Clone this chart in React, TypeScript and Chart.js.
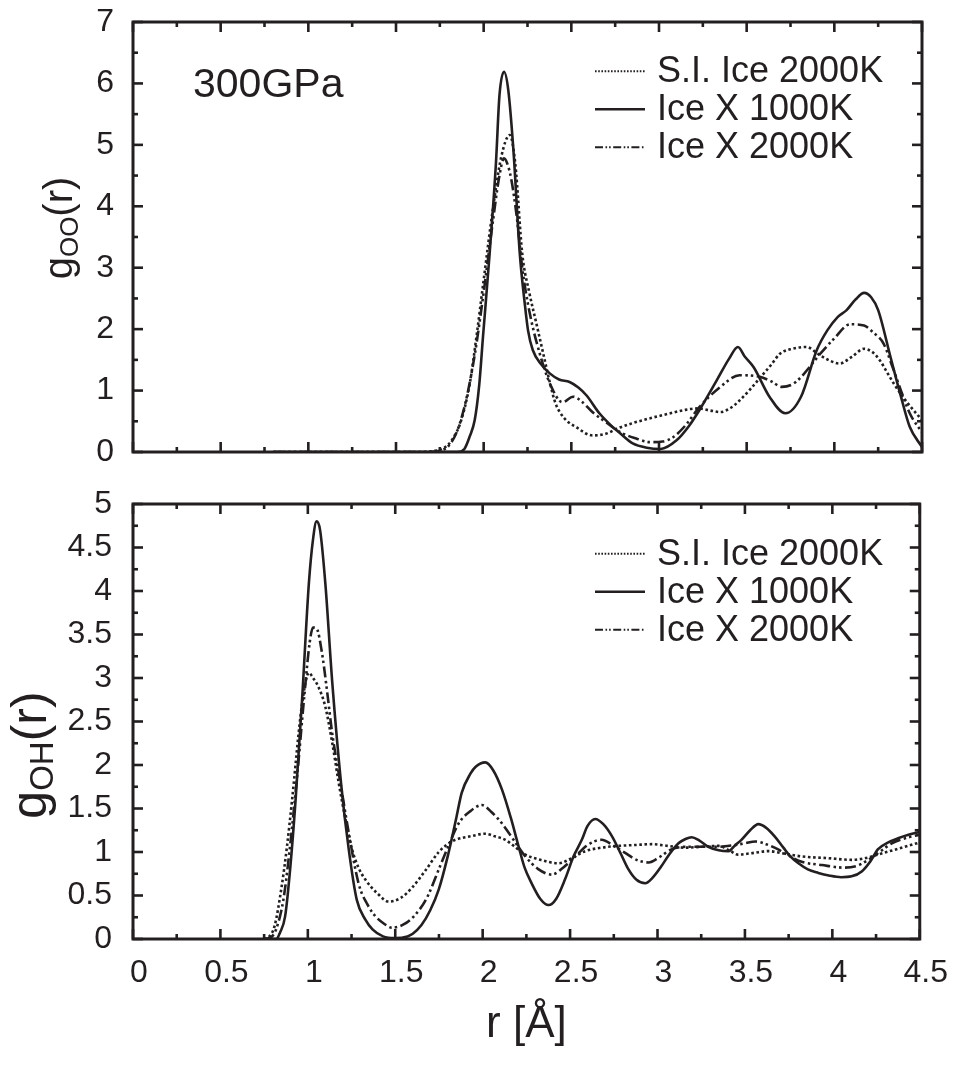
import React, { useEffect, useRef } from "react";
import { Chart, registerables } from "chart.js";

Chart.register(...registerables);

// ---------------- DATA ----------------
const seriesLabels = ["S.I. Ice 2000K", "Ice X 1000K", "Ice X 2000K"];
const pressureLabel = "300GPa";
const xTitle = "r [Å]";
const xTickValues = [0, 0.5, 1, 1.5, 2, 2.5, 3, 3.5, 4, 4.5];
const gooTickValues = [0, 1, 2, 3, 4, 5, 6, 7];
const gohTickValues = [0, 0.5, 1, 1.5, 2, 2.5, 3, 3.5, 4, 4.5, 5];

// g_OO(r) — S.I. Ice 2000K (dotted)
const gooR_SI = [0.8, 1.65, 1.72, 1.77, 1.82, 1.87, 1.92, 1.96, 2.0, 2.05, 2.1, 2.149, 2.18, 2.22, 2.26, 2.3, 2.34, 2.38, 2.41, 2.46, 2.53, 2.62, 2.7, 2.76, 2.85, 2.95, 3.05, 3.14, 3.22, 3.3, 3.35, 3.41, 3.46, 3.52, 3.58, 3.64, 3.69, 3.76, 3.84, 3.92, 3.98, 4.03, 4.1, 4.17, 4.22, 4.26, 4.3, 4.34, 4.42, 4.5];
const gooG_SI = [0, 0, 0.02, 0.06, 0.2, 0.5, 1.1, 1.9, 2.8, 3.9, 4.8, 5.16, 4.7, 3.23, 2.6, 2.1, 1.6, 1.1, 0.79, 0.55, 0.4, 0.27, 0.3, 0.38, 0.47, 0.55, 0.62, 0.68, 0.71, 0.67, 0.65, 0.72, 0.84, 1.02, 1.22, 1.42, 1.6, 1.68, 1.71, 1.57, 1.48, 1.44, 1.55, 1.68, 1.62, 1.49, 1.3, 1.11, 0.79, 0.52];

// g_OO(r) — Ice X 1000K (solid)
const gooR_X1000 = [0.8, 1.7, 1.85, 1.89, 1.92, 1.949, 1.975, 1.996, 2.034, 2.07, 2.09, 2.116, 2.14, 2.17, 2.206, 2.235, 2.253, 2.28, 2.33, 2.377, 2.43, 2.49, 2.54, 2.587, 2.66, 2.72, 2.78, 2.85, 2.93, 3.01, 3.1, 3.17, 3.23, 3.33, 3.4, 3.45, 3.49, 3.54, 3.63, 3.72, 3.81, 3.9, 3.96, 4.02, 4.07, 4.12, 4.17, 4.21, 4.25, 4.32, 4.38, 4.43, 4.5];
const gooG_X1000 = [0, 0, 0, 0.05, 0.25, 0.52, 1.1, 1.87, 3.23, 4.7, 5.8, 6.19, 5.9, 4.9, 3.23, 2.4, 1.98, 1.66, 1.42, 1.28, 1.18, 1.14, 1.05, 0.92, 0.63, 0.45, 0.3, 0.14, 0.07, 0.05, 0.19, 0.42, 0.68, 1.17, 1.52, 1.71, 1.55, 1.38, 0.9, 0.63, 0.9, 1.66, 1.98, 2.2, 2.31, 2.48, 2.59, 2.52, 2.31, 1.55, 0.9, 0.41, 0.08];

// g_OO(r) — Ice X 2000K (dash-dot-dot)
const gooR_X2000 = [0.8, 1.68, 1.75, 1.8, 1.85, 1.9, 1.95, 2.0, 2.05, 2.09, 2.116, 2.14, 2.16, 2.19, 2.22, 2.26, 2.32, 2.38, 2.45, 2.51, 2.56, 2.62, 2.7, 2.78, 2.87, 2.95, 3.02, 3.08, 3.15, 3.23, 3.35, 3.46, 3.58, 3.64, 3.7, 3.76, 3.81, 3.92, 4.0, 4.09, 4.17, 4.22, 4.28, 4.33, 4.38, 4.43, 4.5];
const gooG_X2000 = [0, 0, 0.02, 0.1, 0.35, 0.85, 1.6, 2.6, 3.7, 4.5, 4.78, 4.65, 4.4, 3.8, 3.0, 2.3, 1.6, 1.1, 0.81, 0.9, 0.82, 0.65, 0.48, 0.32, 0.22, 0.16, 0.17, 0.24, 0.43, 0.73, 1.06, 1.25, 1.22, 1.15, 1.06, 1.1, 1.22, 1.6, 1.85, 2.08, 2.06, 1.95, 1.77, 1.4, 1.0, 0.63, 0.32];

// g_OH(r) — S.I. Ice 2000K (dotted)
const gohR_SI = [0.75, 0.78, 0.81, 0.85, 0.88, 0.91, 0.958, 0.99, 1.006, 1.03, 1.06, 1.1, 1.14, 1.177, 1.215, 1.253, 1.29, 1.33, 1.4, 1.463, 1.53, 1.596, 1.67, 1.749, 1.8, 1.844, 1.93, 2.015, 2.07, 2.13, 2.19, 2.244, 2.33, 2.434, 2.51, 2.587, 2.68, 2.777, 2.87, 2.967, 3.06, 3.158, 3.25, 3.35, 3.41, 3.46, 3.55, 3.634, 3.73, 3.82, 3.97, 4.11, 4.19, 4.26, 4.38, 4.5];
const gohG_SI = [0, 0.03, 0.15, 0.6, 1.05, 1.6, 2.56, 2.98, 3.06, 3.0, 2.9, 2.67, 2.25, 1.79, 1.38, 1.03, 0.82, 0.68, 0.52, 0.43, 0.47, 0.59, 0.78, 1.0, 1.09, 1.14, 1.18, 1.21, 1.18, 1.14, 1.05, 0.97, 0.91, 0.87, 0.93, 1.01, 1.05, 1.07, 1.08, 1.09, 1.07, 1.05, 1.06, 1.07, 1.02, 0.97, 0.99, 1.01, 0.98, 0.95, 0.93, 0.91, 0.93, 0.97, 1.04, 1.11];

// g_OH(r) — Ice X 1000K (solid)
const gohR_X1000 = [0.75, 0.82, 0.84, 0.87, 0.9, 0.93, 0.967, 1.006, 1.03, 1.05, 1.07, 1.1, 1.14, 1.19, 1.234, 1.28, 1.33, 1.37, 1.43, 1.5, 1.57, 1.6, 1.65, 1.7, 1.749, 1.8, 1.85, 1.88, 1.93, 1.96, 2.015, 2.06, 2.11, 2.16, 2.206, 2.24, 2.28, 2.33, 2.377, 2.42, 2.47, 2.52, 2.567, 2.6, 2.644, 2.69, 2.74, 2.79, 2.834, 2.88, 2.93, 2.97, 3.02, 3.07, 3.12, 3.16, 3.196, 3.24, 3.29, 3.35, 3.406, 3.44, 3.48, 3.53, 3.577, 3.62, 3.67, 3.72, 3.76, 3.806, 3.86, 3.92, 3.98, 4.05, 4.11, 4.17, 4.22, 4.26, 4.32, 4.38, 4.44, 4.5];
const gohG_X1000 = [0, 0, 0.07, 0.26, 0.83, 1.6, 2.75, 4.09, 4.6, 4.8, 4.7, 4.09, 2.94, 1.79, 1.03, 0.45, 0.22, 0.11, 0.03, 0.01, 0.03, 0.06, 0.16, 0.33, 0.57, 0.95, 1.4, 1.68, 1.9, 1.98, 2.03, 1.94, 1.72, 1.4, 1.06, 0.82, 0.64, 0.46, 0.39, 0.46, 0.68, 0.95, 1.14, 1.3, 1.38, 1.32, 1.18, 0.98, 0.8, 0.68, 0.64, 0.7, 0.83, 0.98, 1.1, 1.15, 1.17, 1.13, 1.06, 1.02, 1.01, 1.07, 1.14, 1.25, 1.32, 1.28, 1.18, 1.05, 0.95, 0.87, 0.8, 0.76, 0.73, 0.71, 0.72, 0.78, 0.9, 1.03, 1.11, 1.16, 1.2, 1.23];

// g_OH(r) — Ice X 2000K (dash-dot-dot)
const gohR_X2000 = [0.75, 0.79, 0.82, 0.86, 0.9, 0.94, 0.98, 1.01, 1.03, 1.05, 1.08, 1.11, 1.139, 1.19, 1.234, 1.29, 1.34, 1.387, 1.44, 1.48, 1.55, 1.615, 1.68, 1.749, 1.8, 1.863, 1.93, 1.996, 2.05, 2.11, 2.18, 2.244, 2.32, 2.396, 2.46, 2.53, 2.6, 2.68, 2.75, 2.815, 2.88, 2.95, 3.01, 3.08, 3.16, 3.25, 3.35, 3.44, 3.5, 3.56, 3.62, 3.69, 3.75, 3.82, 3.94, 4.07, 4.14, 4.206, 4.27, 4.34, 4.42, 4.5];
const gohG_X2000 = [0, 0.02, 0.12, 0.45, 1.1, 1.9, 2.8, 3.4, 3.58, 3.57, 3.3, 2.85, 2.37, 1.75, 1.22, 0.64, 0.4, 0.26, 0.17, 0.13, 0.17, 0.28, 0.47, 0.8, 1.05, 1.33, 1.47, 1.54, 1.46, 1.33, 1.13, 0.95, 0.8, 0.74, 0.82, 0.95, 1.08, 1.14, 1.07, 0.99, 0.91, 0.88, 0.94, 1.03, 1.06, 1.06, 1.06, 1.08, 1.1, 1.12, 1.09, 1.03, 0.96, 0.89, 0.85, 0.82, 0.84, 0.91, 1.0, 1.1, 1.16, 1.2];

// ---------------- STYLE ----------------
const INK = "#231f20";
const FONT = '"Liberation Sans", Arial, Helvetica, sans-serif';
const DOTTED = [2.6, 2.6];
const DASHDOT = [11, 3.5, 2.5, 3, 2.5, 3.5];
const LEGEND_DASH = [[1.6, 1.6], [], [8, 2.5, 1.6, 2, 1.6, 2.5]];

const toPts = (xs: number[], ys: number[]) => xs.map((x, i) => ({ x, y: ys[i] }));

function makeDatasets(sets: [number[], number[]][]) {
  const dashes = [DOTTED, [], DASHDOT];
  return sets.map(([xs, ys], i) => ({
    label: seriesLabels[i],
    data: toPts(xs, ys),
    borderColor: INK,
    backgroundColor: INK,
    borderWidth: 2.6,
    borderDash: dashes[i],
    borderCapStyle: "butt" as const,
    pointRadius: 0,
    fill: false,
    tension: 0.4,
    cubicInterpolationMode: "monotone" as const,
  }));
}

function framePlugin(yMajor: number, yMinor: number) {
  return {
    id: "frameTicks",
    afterDatasetsDraw(chart: any) {
      const { ctx, chartArea: a, scales } = chart;
      const xs = scales.x;
      const ys = scales.y;
      ctx.save();
      ctx.strokeStyle = INK;
      ctx.setLineDash([]);
      ctx.lineCap = "butt";
      ctx.lineWidth = 2.6;
      const seg = (x1: number, y1: number, x2: number, y2: number) => {
        ctx.beginPath();
        ctx.moveTo(x1, y1);
        ctx.lineTo(x2, y2);
        ctx.stroke();
      };
      const isMult = (v: number, m: number) => Math.abs(v / m - Math.round(v / m)) < 1e-6;
      for (let i = 0; ; i++) {
        const v = xs.min + i * 0.25;
        if (v > xs.max + 1e-9) break;
        const len = isMult(v, 0.5) ? 10 : 5;
        const px = xs.getPixelForValue(v);
        seg(px, a.bottom, px, a.bottom - len);
        seg(px, a.top, px, a.top + len);
      }
      for (let i = 0; ; i++) {
        const v = ys.min + i * yMinor;
        if (v > ys.max + 1e-9) break;
        const len = isMult(v, yMajor) ? 10 : 5;
        const py = ys.getPixelForValue(v);
        seg(a.left, py, a.left + len, py);
        seg(a.right, py, a.right - len, py);
      }
      ctx.lineWidth = 3;
      ctx.strokeRect(a.left, a.top, a.right - a.left, a.bottom - a.top);
      ctx.restore();
    },
  };
}

function legendPlugin(rowOffsets: number[], fontSize: number) {
  return {
    id: "sideLegend",
    afterDraw(chart: any) {
      const { ctx, chartArea: a } = chart;
      ctx.save();
      ctx.fillStyle = INK;
      ctx.strokeStyle = INK;
      ctx.font = `${fontSize}px ${FONT}`;
      ctx.textAlign = "left";
      ctx.textBaseline = "middle";
      chart.data.datasets.forEach((ds: any, i: number) => {
        const y = a.top + rowOffsets[i];
        ctx.setLineDash(LEGEND_DASH[i]);
        ctx.lineWidth = i === 1 ? 2.4 : 2;
        ctx.beginPath();
        ctx.moveTo(595, y);
        ctx.lineTo(645, y);
        ctx.stroke();
        ctx.setLineDash([]);
        ctx.fillText(ds.label, 657, y + 1);
      });
      ctx.restore();
    },
  };
}

function yTitlePlugin(main: string, sub: string, tail: string, cx: number, cy: number, size: number, subSize: number) {
  return {
    id: "yTitle",
    afterDraw(chart: any) {
      const { ctx } = chart;
      ctx.save();
      ctx.fillStyle = INK;
      ctx.translate(cx, cy);
      ctx.rotate(-Math.PI / 2);
      ctx.textBaseline = "alphabetic";
      ctx.textAlign = "left";
      ctx.font = `${size}px ${FONT}`;
      const w1 = ctx.measureText(main).width;
      const w3 = ctx.measureText(tail).width;
      ctx.font = `${subSize}px ${FONT}`;
      const w2 = ctx.measureText(sub).width;
      const total = w1 + w2 + w3;
      let x = -total / 2;
      const base = size * 0.26;
      ctx.font = `${size}px ${FONT}`;
      ctx.fillText(main, x, base);
      x += w1;
      ctx.font = `${subSize}px ${FONT}`;
      ctx.fillText(sub, x, base + size * 0.14);
      x += w2;
      ctx.font = `${size}px ${FONT}`;
      ctx.fillText(tail, x, base);
      ctx.restore();
    },
  };
}

function textPlugin(text: string, x: number, baseline: number, size: number) {
  return {
    id: "panelText",
    afterDraw(chart: any) {
      const { ctx } = chart;
      ctx.save();
      ctx.fillStyle = INK;
      ctx.font = `${size}px ${FONT}`;
      ctx.textAlign = "left";
      ctx.textBaseline = "alphabetic";
      ctx.fillText(text, x, baseline);
      ctx.restore();
    },
  };
}

const fmt = (v: any) => {
  const n = Number(v);
  return String(Math.round(n * 100) / 100);
};

// small lineHeight so the y labels do not push the plot area inward
const yTickFont = { family: FONT, size: 32, lineHeight: 0.1 };

export default function App() {
  const topRef = useRef<HTMLCanvasElement | null>(null);
  const botRef = useRef<HTMLCanvasElement | null>(null);

  useEffect(() => {
    if (!topRef.current || !botRef.current) return;

    const top = new Chart(topRef.current, {
      type: "line",
      data: {
        datasets: makeDatasets([
          [gooR_SI, gooG_SI],
          [gooR_X1000, gooG_X1000],
          [gooR_X2000, gooG_X2000],
        ]),
      },
      options: {
        responsive: false,
        animation: false,
        devicePixelRatio: 1,
        layout: { padding: { top: 22, right: 35, left: 0, bottom: 0 } },
        plugins: { legend: { display: false }, tooltip: { enabled: false }, title: { display: false } },
        scales: {
          x: {
            type: "linear",
            min: xTickValues[0],
            max: xTickValues[xTickValues.length - 1],
            grid: { display: false, drawTicks: false },
            border: { display: false },
            ticks: { display: false, stepSize: 0.5 },
            afterFit: (s: any) => { s.height = 28; },
          },
          y: {
            type: "linear",
            min: gooTickValues[0],
            max: gooTickValues[gooTickValues.length - 1],
            grid: { display: false, drawTicks: false },
            border: { display: false },
            ticks: {
              stepSize: 1,
              padding: 19,
              color: INK,
              font: yTickFont,
              callback: fmt,
            },
            afterFit: (s: any) => { s.width = 133; },
          },
        },
      },
      plugins: [
        framePlugin(1, 0.5),
        legendPlugin([49.3, 87.3, 125.3], 36),
        yTitlePlugin("g", "OO", "(r)", 62, 228, 40, 26),
        textPlugin(pressureLabel, 193, 97, 41),
      ],
    } as any);

    const bot = new Chart(botRef.current, {
      type: "line",
      data: {
        datasets: makeDatasets([
          [gohR_SI, gohG_SI],
          [gohR_X1000, gohG_X1000],
          [gohR_X2000, gohG_X2000],
        ]),
      },
      options: {
        responsive: false,
        animation: false,
        devicePixelRatio: 1,
        layout: { padding: { top: 24, right: 35, left: 0, bottom: 0 } },
        plugins: { legend: { display: false }, tooltip: { enabled: false }, title: { display: false } },
        scales: {
          x: {
            type: "linear",
            min: xTickValues[0],
            max: xTickValues[xTickValues.length - 1],
            grid: { display: false, drawTicks: false },
            border: { display: false },
            ticks: {
              stepSize: 0.5,
              padding: 15,
              labelOffset: 6,
              maxRotation: 0,
              autoSkip: false,
              color: INK,
              font: { family: FONT, size: 32 },
              callback: fmt,
            },
            title: {
              display: true,
              text: xTitle,
              color: INK,
              font: { family: FONT, size: 44 },
              padding: { top: 0, bottom: 17 },
            },
            afterFit: (s: any) => { s.height = 129; },
          },
          y: {
            type: "linear",
            min: gohTickValues[0],
            max: gohTickValues[gohTickValues.length - 1],
            grid: { display: false, drawTicks: false },
            border: { display: false },
            ticks: {
              stepSize: 0.5,
              padding: 21,
              color: INK,
              font: yTickFont,
              callback: fmt,
            },
            afterFit: (s: any) => { s.width = 133; },
          },
        },
      },
      plugins: [
        framePlugin(0.5, 0.25),
        legendPlugin([49.7, 87.7, 125.7], 36),
        yTitlePlugin("g", "OH", "(r)", 33, 275, 50, 33),
      ],
    } as any);

    return () => {
      top.destroy();
      bot.destroy();
    };
  }, []);

  return (
    <div style={{ position: "absolute", left: 0, top: 0, width: 957, height: 1068, background: "#fff" }}>
      <canvas ref={topRef} width={957} height={480} style={{ position: "absolute", left: 0, top: 0, width: 957, height: 480 }} />
      <canvas ref={botRef} width={957} height={588} style={{ position: "absolute", left: 0, top: 480, width: 957, height: 588 }} />
    </div>
  );
}
